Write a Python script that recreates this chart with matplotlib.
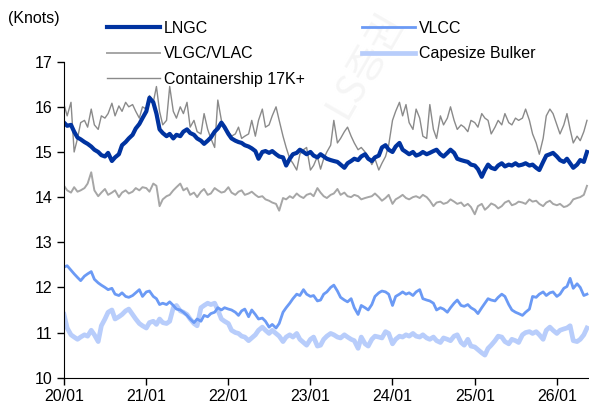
import matplotlib

matplotlib.use("Agg")
import matplotlib.pyplot as plt
import matplotlib.dates as mdates
import pandas as pd

plt.rcParams["font.family"] = ["Liberation Sans", "DejaVu Sans"]

# semi-monthly observations, 2020-01-01 .. 2026-05-15
dates = pd.date_range("2020-01-01", "2026-05-15", freq="SMS")

lngc = [
    15.65, 15.58, 15.6, 15.45, 15.32, 15.28, 15.22, 15.18, 15.12, 15.05, 15.0, 14.93,
    14.9, 14.98, 14.8, 14.88, 14.95, 15.15, 15.22, 15.3, 15.38, 15.52, 15.62, 15.75,
    15.9, 16.2, 16.1, 15.85, 15.5, 15.42, 15.35, 15.4, 15.3, 15.38, 15.35, 15.45,
    15.5, 15.42, 15.38, 15.3, 15.25, 15.18, 15.25, 15.32, 15.45, 15.52, 15.65, 15.55,
    15.4, 15.3, 15.25, 15.22, 15.2, 15.15, 15.12, 15.08, 15.02, 14.85, 15.0, 15.02,
    14.98, 15.02, 14.95, 14.9, 14.88, 14.7, 14.85, 14.95, 14.98, 15.05, 15.0, 14.95,
    15.0, 14.92, 14.88, 14.95, 14.9, 14.85, 14.82, 14.8, 14.78, 14.72, 14.65, 14.75,
    14.8, 14.85, 14.82, 14.9, 14.95, 14.85, 14.8, 14.88, 14.92, 15.1, 15.15, 15.05,
    15.0, 15.12, 15.2, 15.05, 15.0, 14.95, 15.0, 14.92, 14.95, 15.0, 14.95, 14.98,
    15.02, 15.05, 14.95, 14.9, 14.98, 15.05, 14.98, 14.85, 14.82, 14.8, 14.78, 14.72,
    14.7, 14.62, 14.45, 14.6, 14.72, 14.65, 14.62, 14.7, 14.75, 14.68, 14.72, 14.7,
    14.75, 14.7, 14.72, 14.75, 14.7, 14.72, 14.65, 14.6, 14.78, 14.92, 14.95, 14.98,
    14.9, 14.82, 14.78, 14.85, 14.75, 14.65, 14.72, 14.82, 14.78, 15.0,
]

vlgc = [
    14.25, 14.15, 14.1, 14.22, 14.12, 14.15, 14.2, 14.3, 14.55, 14.15, 14.02, 14.1,
    14.18, 14.05, 14.1, 14.15, 14.0, 14.1, 14.15, 14.08, 14.12, 14.2, 14.15, 14.22,
    14.2, 14.12, 14.3, 14.25, 13.8, 13.95, 14.02, 14.05, 14.15, 14.22, 14.3, 14.15,
    14.2, 14.05, 14.1, 14.0, 14.12, 14.18, 14.05, 14.08, 14.2, 14.15, 14.1, 14.12,
    14.22, 14.1, 14.05, 14.12, 14.15, 14.05, 14.08, 14.12, 14.05, 14.0, 14.02, 13.95,
    13.92, 13.88, 13.85, 13.7, 13.98, 13.95, 14.02, 13.98, 14.08, 14.02, 13.98, 14.05,
    14.08, 14.02, 14.2, 14.1, 14.02, 13.98, 14.05, 14.08, 14.18, 14.05, 14.1, 14.02,
    14.0, 14.05, 14.02, 13.95, 13.98, 14.0, 14.02, 14.08, 14.0, 13.92, 13.98, 14.05,
    13.85, 13.95, 14.0, 14.05, 13.98, 13.95, 14.0, 14.02, 13.98, 14.05, 14.0, 13.92,
    13.8, 13.88, 13.9, 13.85, 13.88, 13.95, 13.9, 13.85, 13.88, 13.8, 13.85, 13.78,
    13.62, 13.8, 13.85, 13.72, 13.78, 13.86, 13.82, 13.75, 13.8, 13.88, 13.92, 13.82,
    13.85, 13.9, 13.88, 13.85, 13.95, 13.9, 13.92, 13.85, 13.8, 13.88, 13.92, 13.85,
    13.82, 13.85, 13.78, 13.8, 13.85, 13.95, 13.98, 14.0, 14.05, 14.25,
]

container = [
    16.05, 15.8, 16.1, 15.0, 15.3, 15.65, 15.7, 15.55, 15.95, 15.6, 15.5, 15.8,
    15.75, 15.85, 16.08, 15.8, 16.02, 15.9, 16.1, 16.0, 16.05, 15.9, 15.75, 16.0,
    15.95, 16.25, 16.1, 16.45, 15.9, 15.6, 15.7, 16.45, 15.9, 15.75, 16.0, 15.85,
    16.1, 15.55, 15.7, 15.45, 15.4, 15.85, 15.5, 15.3, 15.1, 16.15, 15.7, 15.5,
    15.45, 15.35, 15.4, 15.55, 15.3, 15.35, 15.4, 15.7, 15.35, 15.7, 15.95, 15.55,
    15.6, 15.8, 16.0, 15.7, 15.35, 15.1, 14.85, 14.75, 14.6, 14.95, 15.05, 15.1,
    14.6, 14.7, 14.9, 14.62, 14.85, 15.0, 15.15, 15.7, 15.2, 15.3, 15.45, 15.55,
    15.35, 15.2, 15.05, 15.1, 15.0, 14.9, 14.72, 14.85, 14.6, 14.75, 14.9, 15.15,
    15.7, 15.9, 16.1, 15.8, 16.05, 15.65, 15.5, 15.95, 15.75, 15.35, 15.3, 16.05,
    15.5, 15.3, 15.8, 15.6, 15.75, 16.0, 15.7, 15.5, 15.6, 15.55, 15.45, 15.7,
    15.65, 15.55, 15.85, 15.75, 15.7, 15.4, 15.55, 15.7, 15.6, 15.85, 15.65, 15.6,
    15.75, 15.7, 15.75, 15.95, 15.7, 15.4, 15.2, 14.95, 15.3, 15.8, 15.95, 15.85,
    15.6, 15.4, 15.6, 15.85, 15.5, 15.2, 15.35, 15.25, 15.45, 15.7,
]

vlcc = [
    12.45, 12.48, 12.38, 12.3, 12.22, 12.15, 12.25, 12.3, 12.35, 12.18, 12.1, 12.05,
    12.0, 11.95, 11.98, 11.85, 11.82, 11.88, 11.8, 11.78, 11.82, 11.88, 11.95, 11.8,
    11.9, 11.92, 11.8, 11.75, 11.62, 11.65, 11.62, 11.68, 11.6, 11.52, 11.5, 11.45,
    11.38, 11.3, 11.22, 11.3, 11.25, 11.38, 11.35, 11.42, 11.45, 11.55, 11.5, 11.55,
    11.52, 11.5, 11.45, 11.38, 11.48, 11.52, 11.35, 11.5, 11.4, 11.3, 11.32, 11.25,
    11.12, 11.18, 11.1, 11.2, 11.45, 11.55, 11.65, 11.75, 11.85, 11.82, 11.95, 11.85,
    11.8, 11.82, 11.7, 11.72, 11.85, 11.9, 12.0, 12.05, 11.92, 11.78, 11.72, 11.68,
    11.75, 11.55, 11.4, 11.6, 11.55, 11.5, 11.62, 11.8, 11.88, 11.92, 11.9, 11.85,
    11.6, 11.8, 11.85, 11.9, 11.85, 11.88, 11.82, 11.9, 11.95, 11.75, 11.72, 11.7,
    11.65, 11.5, 11.55, 11.52, 11.45, 11.55, 11.65, 11.72, 11.6, 11.58, 11.62, 11.55,
    11.5, 11.42, 11.55, 11.65, 11.75, 11.72, 11.7, 11.78, 11.85, 11.8, 11.62, 11.5,
    11.45, 11.42, 11.38, 11.45, 11.52, 11.8, 11.78, 11.85, 11.9, 11.82, 11.88, 11.9,
    11.8, 11.85, 11.98, 12.02, 12.2, 11.98, 12.08, 12.0, 11.82, 11.85,
]

capesize = [
    11.4, 11.1, 10.95, 10.9, 10.85, 10.9, 10.95, 10.92, 11.05, 10.95, 10.8, 11.15,
    11.3, 11.45, 11.5, 11.3, 11.35, 11.4, 11.48, 11.52, 11.4, 11.3, 11.2, 11.15,
    11.1, 11.22, 11.25, 11.18, 11.3, 11.22, 11.2, 11.25, 11.55, 11.6, 11.48, 11.45,
    11.4, 11.3, 11.2, 11.15, 11.55, 11.6, 11.65, 11.62, 11.65, 11.5, 11.3, 11.25,
    11.2, 11.05, 11.0, 10.98, 10.92, 10.9, 10.82, 10.88, 10.95, 11.05, 11.12, 11.05,
    10.98, 11.05, 10.98, 10.92, 10.8, 10.9, 10.95, 10.9, 10.98, 10.85, 10.78, 10.72,
    10.85, 10.9, 10.7, 10.72, 10.85, 10.92, 10.98, 10.95, 10.9, 10.88, 10.95, 10.9,
    10.85, 10.82, 10.65, 10.9, 10.75, 10.7, 10.85, 10.92, 10.9, 10.88, 11.02, 10.98,
    10.75, 10.85, 10.92, 10.9, 10.95, 10.92, 10.98, 10.92, 10.9, 10.95, 10.88, 10.85,
    10.9, 10.82, 10.78, 10.88, 10.85, 10.82, 10.92, 10.95, 10.78, 10.72, 10.85, 10.7,
    10.68, 10.62, 10.55, 10.5, 10.65, 10.72, 10.82, 10.92, 10.9, 10.8, 10.75, 10.85,
    10.82, 10.78, 10.95, 11.0, 11.02, 10.98, 11.02, 10.95, 10.85, 11.05, 11.12, 11.05,
    10.98, 11.05, 11.08, 11.1, 11.15, 10.82, 10.8, 10.85, 10.95, 11.1,
]

fig = plt.figure(figsize=(5.89, 4.08), dpi=100)
ax = fig.add_axes([0.1087, 0.0743, 0.8913, 0.7745])

# faint watermark, kept behind the axes
fig.text(0.62, 0.84, "LS증권", fontsize=28, color="#f5f5f5", rotation=60,
         ha="center", va="center", family=["Noto Sans CJK KR", "DejaVu Sans"], zorder=-1)

ax.plot(dates, capesize, color="#b8cdfb", lw=3.4, label="Capesize Bulker")
ax.plot(dates, vlcc, color="#6b9af5", lw=2.0, label="VLCC")
ax.plot(dates, vlgc, color="#a6a6a6", lw=1.4, label="VLGC/VLAC")
ax.plot(dates, container, color="#8a8a8a", lw=1.0, label="Containership 17K+")
ax.plot(dates, lngc, color="#0033a0", lw=3.0, label="LNGC")

ax.set_ylim(10, 17)
ax.set_xlim(pd.Timestamp("2020-01-01"), pd.Timestamp("2026-05-24"))
ax.xaxis.set_major_locator(mdates.YearLocator())
ax.xaxis.set_major_formatter(mdates.DateFormatter("%y/%m"))
ax.tick_params(labelsize=11.5, length=5, width=1, colors="black")
ax.spines["top"].set_visible(False)
ax.spines["right"].set_visible(False)
ax.patch.set_alpha(0)

handles, labels = ax.get_legend_handles_labels()
order = ["LNGC", "VLGC/VLAC", "Containership 17K+", "VLCC", "Capesize Bulker"]
hmap = dict(zip(labels, handles))
ax.legend([hmap[k] for k in order], order, ncol=2, frameon=False,
          loc="upper left", bbox_to_anchor=(107 / 589, 1 - 21 / 408),
          bbox_transform=fig.transFigure, fontsize=11.5, handlelength=3.3,
          handletextpad=0.25, columnspacing=3.6, labelspacing=0.65,
          borderpad=0, borderaxespad=0)

fig.text(8 / 589, 1 - 18 / 408, "(Knots)", fontsize=11.5, va="center", ha="left")

plt.savefig("out.png", dpi=100)
